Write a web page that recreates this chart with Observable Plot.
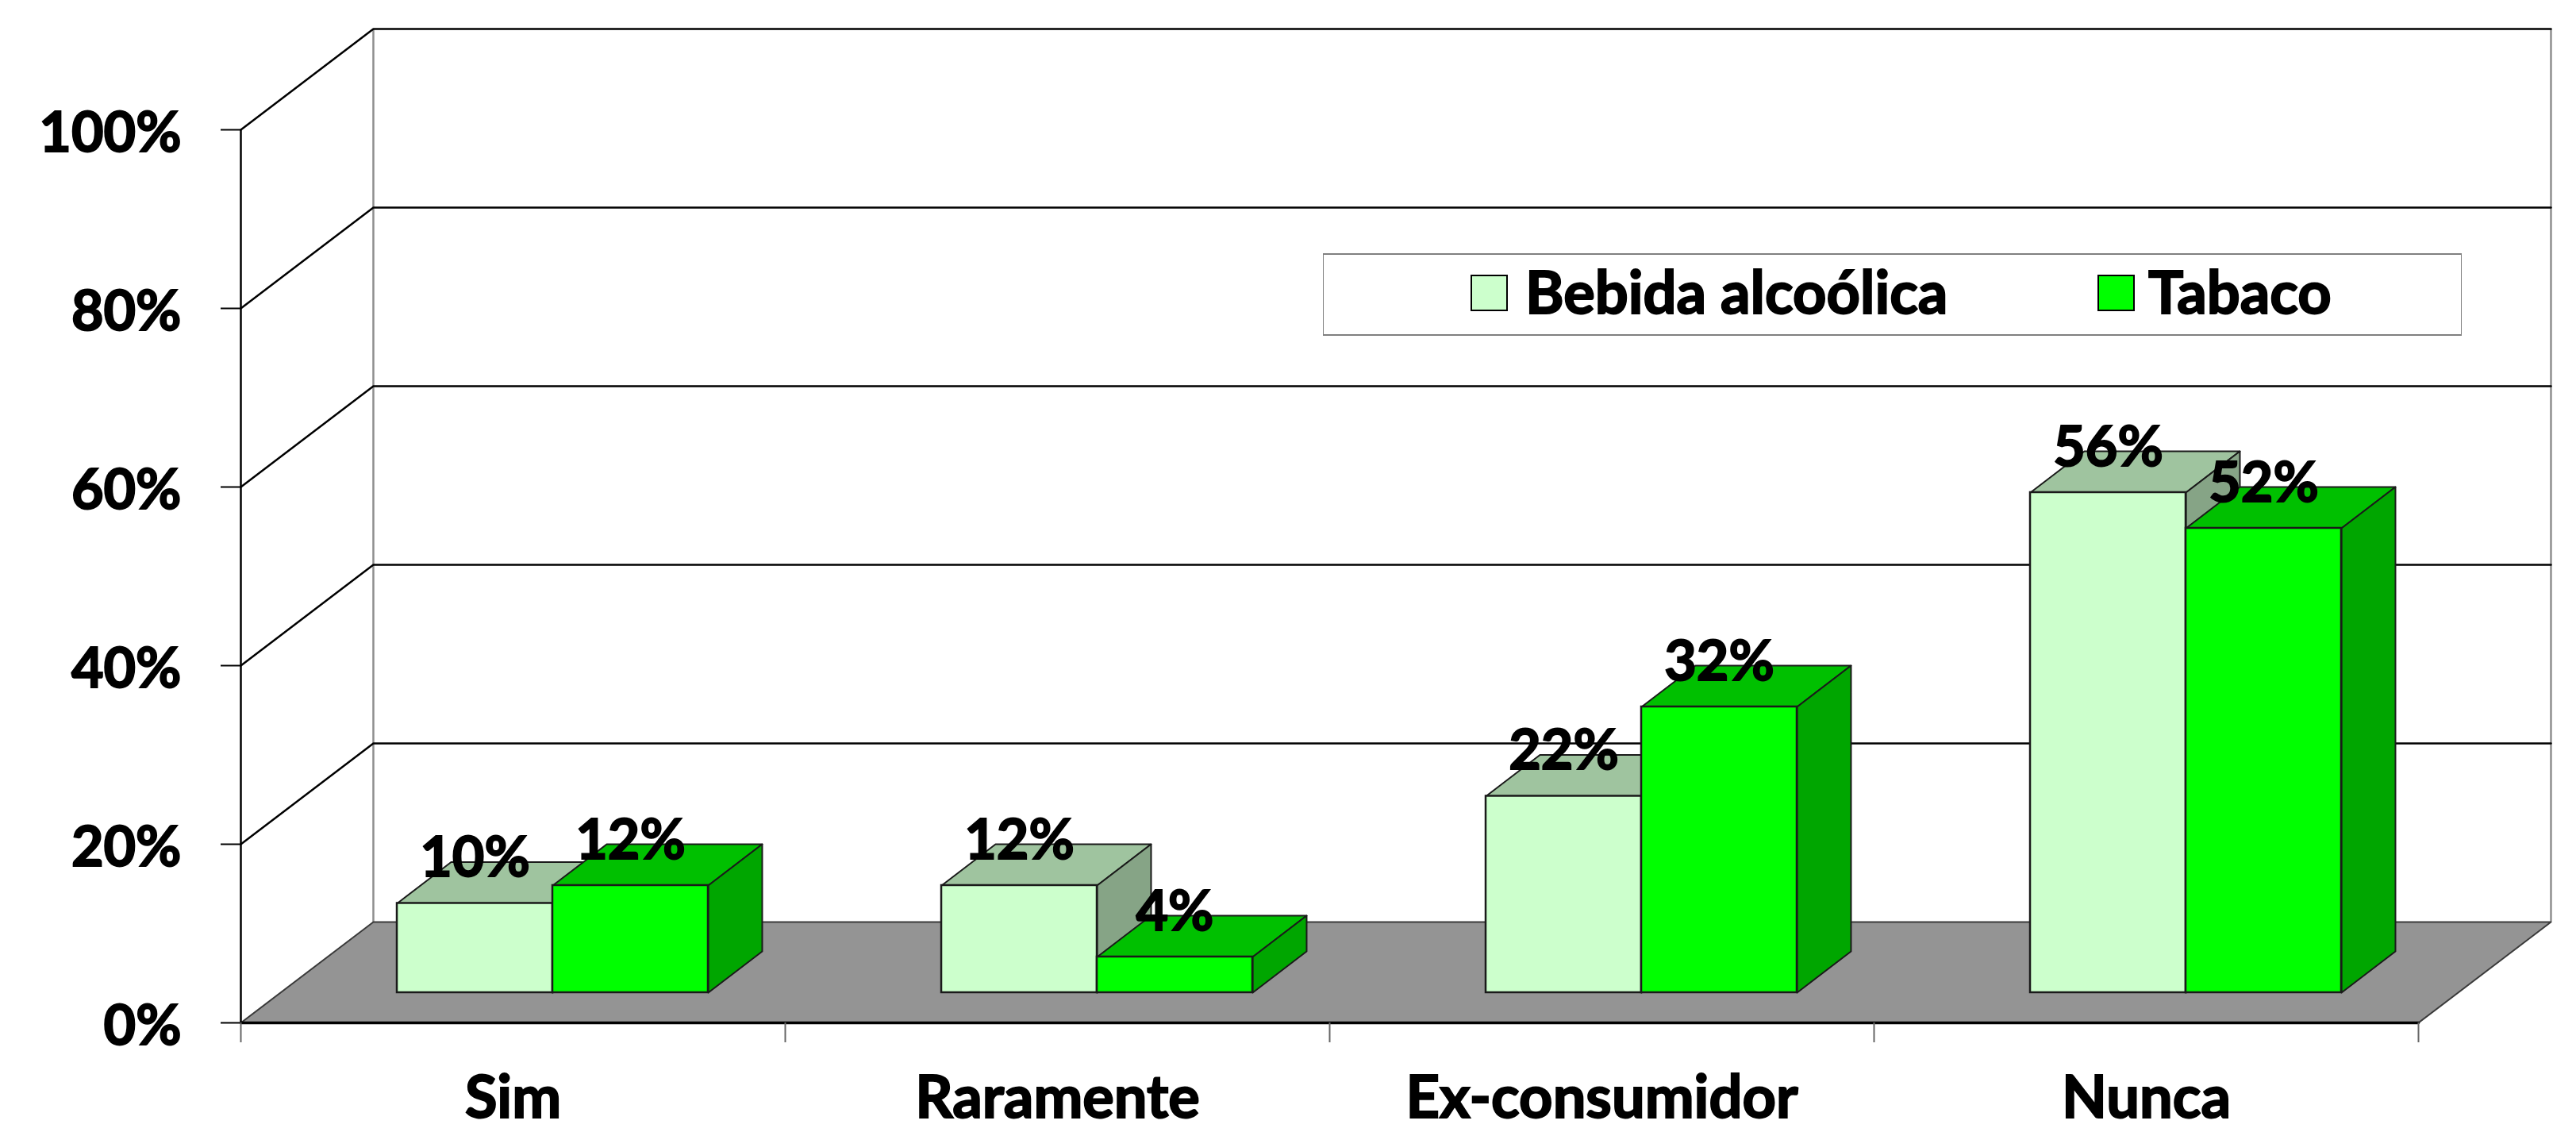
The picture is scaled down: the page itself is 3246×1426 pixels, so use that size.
<!DOCTYPE html>
<html lang="pt">
<head>
<meta charset="utf-8">
<title>Bebida alcoólica e Tabaco</title>
<script src="https://cdn.jsdelivr.net/npm/d3@7"></script>
<script src="https://cdn.jsdelivr.net/npm/@observablehq/plot@0.6"></script>
<style>
  html, body { margin: 0; padding: 0; background: #fff; }
  #chart { position: relative; width: 3246px; height: 1426px; overflow: hidden; }
  #chart svg { display: block; max-width: none; }
  #chart svg text { stroke: #000; stroke-width: 2px; paint-order: stroke; }
  #legend {
    position: absolute; left: 1667px; top: 319px; width: 1433px; height: 100px;
    border: 2px solid #7f7f7f; border-width: 2px 1px; background: #fff; box-sizing: content-box;
    font: 700 74px Lato, sans-serif; color: #000; -webkit-text-stroke: 2px #000;
  }
  #legend .sw { position: absolute; top: 25px; width: 43px; height: 42px; border: 2px solid #000; }
  #legend .tx { position: absolute; top: 0; line-height: 92px; white-space: nowrap; }
</style>
</head>
<body>
<div id="chart"><div id="legend"></div></div>
<script>
const categories = ["Sim", "Raramente", "Ex-consumidor", "Nunca"];
const seriesNames = ["Bebida alcoólica", "Tabaco"];
const bebida = [10, 12, 22, 56];
const tabaco = [12, 4, 32, 52];
const yTicks = [0, 20, 40, 60, 80, 100];
const xBoundaries = [0, 1, 2, 3, 4];

const frontColors = ["#ccffcc", "#00ff00"];
const topColors = ["#9fc49f", "#00c000"];
const sideColors = ["#86a486", "#00a600"];
const floorColor = "#949494";

// Oblique projection, expressed in data units of the two scales
const wallDX = 0.2434, wallDY = 11.29;   // depth of the floor
const barDX = 0.0991, barDY = 4.62;      // depth of a bar
const barLift = 3.38;                    // bar base sits this far up the floor
const barStart = 0.2872, barW = 0.2857;  // bar position inside a category

const table = categories.flatMap((c, i) =>
  [bebida[i], tabaco[i]].map((v, s) => ({
    cat: c, s, v,
    x1: i + barStart + s * barW,
    x2: i + barStart + (s + 1) * barW,
    y1: barLift,
    y2: barLift + v
  }))
);

function poly(id, fill, pts) {
  return [...pts, pts[0]].map(([x, y]) => ({ id, fill, x, y }));
}
const faces = table.flatMap((b, k) => [
  ...poly(`top${k}`, topColors[b.s], [
    [b.x1, b.y2], [b.x2, b.y2], [b.x2 + barDX, b.y2 + barDY], [b.x1 + barDX, b.y2 + barDY]
  ]),
  ...poly(`side${k}`, sideColors[b.s], [
    [b.x2, b.y1], [b.x2 + barDX, b.y1 + barDY], [b.x2 + barDX, b.y2 + barDY], [b.x2, b.y2]
  ])
]);

const xEnd = xBoundaries[xBoundaries.length - 1];
const floor = poly("floor", floorColor, [
  [0, 0], [xEnd, 0], [xEnd + wallDX, wallDY], [wallDX, wallDY]
]);
const gridLines = yTicks.filter(d => d > 0).flatMap(v => [
  { id: v, x: 0, y: v },
  { id: v, x: wallDX, y: v + wallDY },
  { id: v, x: xEnd + wallDX, y: v + wallDY }
]);

const fontFamily = "Lato, sans-serif";

const plot = Plot.plot({
  width: 3246,
  height: 1426,
  marginLeft: 303,
  marginRight: 199,
  marginTop: 163,
  marginBottom: 138,
  style: { background: "#fff", overflow: "visible", fontFamily },
  x: { type: "linear", domain: [0, xEnd], axis: null },
  y: { type: "linear", domain: [0, 100], axis: null },
  color: { type: "identity" },
  marks: [
    // back wall edges
    Plot.ruleX([wallDX, xEnd + wallDX], { y1: wallDY, y2: 100 + wallDY, stroke: "#8f8f8f", strokeWidth: 2.5 }),
    // floor
    Plot.line(floor, { x: "x", y: "y", z: "id", fill: "fill", stroke: "#3a3a3a", strokeWidth: 2 }),
    Plot.line([{ x: 0, y: 0 }, { x: xEnd, y: 0 }], { x: "x", y: "y", stroke: "#000", strokeWidth: 3.5 }),
    // gridlines on left and back walls
    Plot.line(gridLines, { x: "x", y: "y", z: "id", stroke: "#000", strokeWidth: 2.5 }),
    // left wall
    Plot.ruleX([0], { y1: 0, y2: 100, stroke: "#000", strokeWidth: 2.5 }),
    // axes
    Plot.axisY({
      ticks: yTicks, tickSize: 25, tickFormat: () => "", stroke: "#000", strokeWidth: 2, label: null
    }),
    Plot.axisY({
      ticks: yTicks, tickSize: 0, tickPadding: 75, tickFormat: d => `${d}%`, dy: 5,
      fontSize: 70, fontWeight: 700, fill: "#000", label: null
    }),
    Plot.axisX({
      ticks: xBoundaries, tickSize: 25, tickFormat: () => "", stroke: "#666", strokeWidth: 2, label: null
    }),
    Plot.text(categories, {
      x: (_, i) => i + 0.5, y: 0, dy: 96, text: d => d,
      fontSize: 74, fontWeight: 700, fill: "#000", lineAnchor: "middle"
    }),
    // bar tops and sides, then front faces
    Plot.line(faces, { x: "x", y: "y", z: "id", fill: "fill", stroke: "#1a1a1a", strokeWidth: 2, strokeLinejoin: "round" }),
    Plot.rect(table, {
      x1: "x1", x2: "x2", y1: "y1", y2: "y2",
      fill: d => frontColors[d.s], stroke: "#1a1a1a", strokeWidth: 2.5
    }),
    // value labels
    Plot.text(table, {
      x: d => (d.x1 + d.x2) / 2, y: "y2", dy: -56,
      text: d => `${d.v}%`, fontSize: 70, fontWeight: 700, fill: "#000", lineAnchor: "middle"
    })
  ]
});
document.getElementById("chart").prepend(plot);

// Legend
const legend = document.getElementById("legend");
const legendX = [[185, 254], [975, 1039]];
seriesNames.forEach((name, i) => {
  const sw = document.createElement("div");
  sw.className = "sw";
  sw.style.left = legendX[i][0] + "px";
  sw.style.background = frontColors[i];
  const tx = document.createElement("div");
  tx.className = "tx";
  tx.style.left = legendX[i][1] + "px";
  tx.textContent = name;
  legend.append(sw, tx);
});
</script>
</body>
</html>
